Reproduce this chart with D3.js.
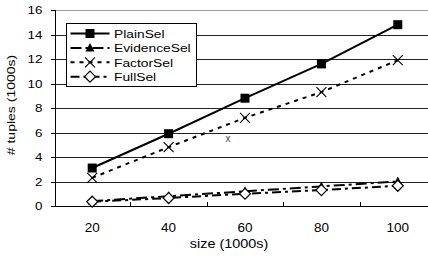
<!DOCTYPE html>
<html>
<head>
<meta charset="utf-8">
<script src="https://cdn.jsdelivr.net/npm/d3@7"></script>
<style>
  body { margin: 0; background: #fff; }
  text { font-family: "Liberation Sans", Arial, sans-serif; fill: #000; }
</style>
</head>
<body>
<div id="chart"></div>
<script>
// data
const sizes = ["20", "40", "60", "80", "100"];
const plainSel = [3.1, 5.9, 8.8, 11.6, 14.8];
const evidenceSel = [0.4, 0.8, 1.2, 1.6, 2.0];
const factorSel = [2.3, 4.8, 7.2, 9.3, 11.9];
const fullSel = [0.35, 0.65, 1.0, 1.3, 1.65];
const yTicks = [0, 2, 4, 6, 8, 10, 12, 14, 16];
const seriesNames = ["PlainSel", "EvidenceSel", "FactorSel", "FullSel"];
// stray point mark left in the figure
const strayMark = { size: "60", value: 5.45, label: "x" };

const width = 428, height = 256;
const margin = { top: 10, right: -8, bottom: 50, left: 54 };

const svg = d3.select("#chart").append("svg")
    .attr("width", width)
    .attr("height", height);

const x = d3.scaleBand()
    .domain(sizes)
    .range([margin.left, width - margin.right]);
const y = d3.scaleLinear()
    .domain([0, 16])
    .range([height - margin.bottom, margin.top]);
const cx = d => x(d) + x.bandwidth() / 2;

// text in the figure is a bit wider than normal
function label(g, tx, ty, str, size, sx, anchor, rot) {
    return g.append("text")
        .attr("transform", "translate(" + tx + "," + ty + ")" + (rot ? " rotate(" + rot + ")" : "") + " scale(" + sx + ",1)")
        .attr("text-anchor", anchor || "start")
        .attr("font-size", size)
        .text(str);
}

// gridlines
svg.append("g")
    .selectAll("line")
    .data(yTicks.filter(d => d > 0))
    .enter().append("line")
    .attr("x1", margin.left)
    .attr("x2", width)
    .attr("y1", d => Math.round(y(d)) + 0.5)
    .attr("y2", d => Math.round(y(d)) + 0.5)
    .attr("stroke", d => d === 16 ? "#999" : "#222")
    .attr("stroke-width", 1)
    .attr("shape-rendering", "crispEdges");

// y axis
const yAxis = svg.append("g")
    .attr("transform", "translate(" + (margin.left + 0.5) + ",0)")
    .call(d3.axisLeft(y).tickValues(yTicks).tickSize(4).tickFormat(""));
yAxis.select(".domain").attr("stroke", "#000").attr("shape-rendering", "crispEdges");
yAxis.selectAll(".tick line").attr("stroke", "#000").attr("shape-rendering", "crispEdges");

const yLab = svg.append("g");
yTicks.forEach(t => label(yLab, 42.5, y(t) + 4, t, 11, 1.22, "end"));

// x axis baseline
const y0 = Math.round(y(0)) + 0.5;
svg.append("line")
    .attr("x1", margin.left).attr("x2", width)
    .attr("y1", y0).attr("y2", y0)
    .attr("stroke", "#000")
    .attr("shape-rendering", "crispEdges");

// ticks between categories, pointing up
svg.append("g")
    .selectAll("line")
    .data(sizes.slice(1))
    .enter().append("line")
    .attr("x1", d => Math.round(x(d)) + 0.5)
    .attr("x2", d => Math.round(x(d)) + 0.5)
    .attr("y1", y0)
    .attr("y2", y0 - 5)
    .attr("stroke", "#000")
    .attr("shape-rendering", "crispEdges");

// x labels
const xLab = svg.append("g");
sizes.forEach(s => label(xLab, cx(s), 232, s, 13, 1.04, "middle"));

label(svg, 229, 248, "size (1000s)", 12, 1.2, "middle");
label(svg, 14.5, 105, "# tuples (1000s)", 11.5, 1.22, "middle", -90);

// stray mark
svg.append("text")
    .attr("x", cx(strayMark.size) - 17)
    .attr("y", y(strayMark.value) + 3)
    .attr("text-anchor", "middle")
    .attr("font-family", "'Liberation Serif', serif")
    .attr("font-size", 10)
    .style("fill", "#444")
    .text(strayMark.label);

const styles = {
    PlainSel: { dash: null, marker: "square" },
    EvidenceSel: { dash: "11,4,3,4", marker: "triangle" },
    FactorSel: { dash: "4,5", marker: "cross" },
    FullSel: { dash: "9,4,3,4", marker: "diamond" }
};
const seriesData = {
    PlainSel: plainSel,
    EvidenceSel: evidenceSel,
    FactorSel: factorSel,
    FullSel: fullSel
};

function drawMarker(g, type, px, py) {
    if (type === "square") {
        g.append("rect")
            .attr("x", px - 4.5).attr("y", py - 4.5)
            .attr("width", 9).attr("height", 9)
            .attr("fill", "#000");
    } else if (type === "triangle") {
        g.append("path")
            .attr("d", `M${px},${py - 5}L${px + 4.5},${py + 3.5}L${px - 4.5},${py + 3.5}Z`)
            .attr("fill", "#000");
    } else if (type === "cross") {
        g.append("path")
            .attr("d", `M${px - 5},${py - 5}L${px + 5},${py + 5}M${px - 5},${py + 5}L${px + 5},${py - 5}`)
            .attr("stroke", "#000").attr("stroke-width", 1.1).attr("fill", "none");
    } else if (type === "diamond") {
        g.append("path")
            .attr("d", `M${px},${py - 5.5}L${px + 5.5},${py}L${px},${py + 5.5}L${px - 5.5},${py}Z`)
            .attr("fill", "#fff").attr("stroke", "#000").attr("stroke-width", 1.2);
    }
}

const line = d3.line()
    .x((d, i) => cx(sizes[i]))
    .y(d => y(d));

seriesNames.forEach(name => {
    const g = svg.append("g");
    g.append("path")
        .datum(seriesData[name])
        .attr("d", line)
        .attr("fill", "none")
        .attr("stroke", "#000")
        .attr("stroke-width", 2)
        .attr("stroke-dasharray", styles[name].dash);
    seriesData[name].forEach((v, i) => drawMarker(g, styles[name].marker, cx(sizes[i]), y(v)));
});

// legend
const legend = svg.append("g").attr("transform", "translate(66.5,23.5)");
legend.append("rect")
    .attr("width", 130).attr("height", 63)
    .attr("fill", "#fff").attr("stroke", "#000")
    .attr("shape-rendering", "crispEdges");
seriesNames.forEach((name, i) => {
    const ly = 10 + i * 14.4;
    legend.append("line")
        .attr("x1", 4).attr("x2", 43)
        .attr("y1", ly).attr("y2", ly)
        .attr("stroke", "#000").attr("stroke-width", 2)
        .attr("stroke-dasharray", styles[name].dash);
    drawMarker(legend, styles[name].marker, 23.5, ly);
    label(legend, 47.5, ly + 4.2, name, 11.5, 1.2, "start");
});
</script>
</body>
</html>
